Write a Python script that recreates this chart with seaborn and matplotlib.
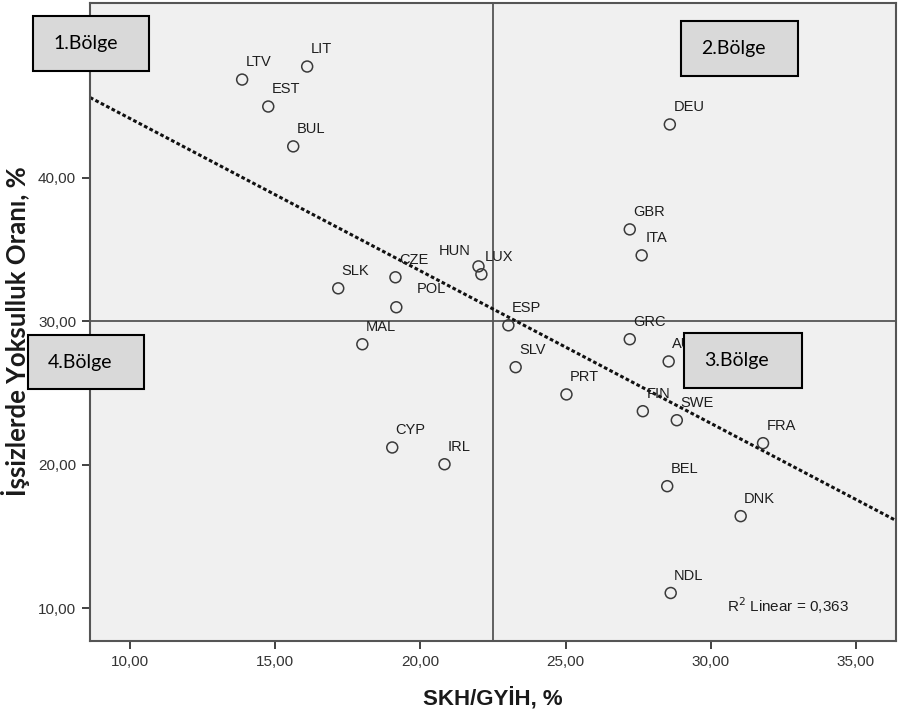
import numpy as np
import pandas as pd
import matplotlib
matplotlib.use("Agg")
import matplotlib.pyplot as plt
import seaborn as sns

# data
countries = ["LTV", "LIT", "EST", "BUL", "DEU", "SLK", "CZE", "POL", "HUN", "LUX",
             "ESP", "MAL", "SLV", "PRT", "GRC", "AUT", "FIN", "SWE", "FRA", "BEL",
             "DNK", "NDL", "CYP", "IRL", "GBR", "ITA"]
skh = [13.86, 16.10, 14.76, 15.62, 28.59, 17.17, 19.14, 19.17, 22.00, 22.10,
       23.03, 18.00, 23.28, 25.03, 27.21, 28.55, 27.66, 28.83, 31.80, 28.50,
       31.03, 28.62, 19.03, 20.83, 27.21, 27.62]
poverty = [46.86, 47.77, 44.98, 42.20, 43.73, 32.30, 33.07, 30.98, 33.83, 33.28,
           29.72, 28.40, 26.80, 24.90, 28.75, 27.20, 23.73, 23.10, 21.50, 18.50,
           16.41, 11.05, 21.20, 20.03, 36.41, 34.60]
x_ticks = [10, 15, 20, 25, 30, 35]
y_ticks = [10, 20, 30, 40]
x_ref, y_ref = 22.5, 30
regions = ["1.Bölge", "2.Bölge", "3.Bölge", "4.Bölge"]

df = pd.DataFrame({"country": countries, "skh": skh, "poverty": poverty})

sns.set_style("white")
plt.rcParams["font.family"] = ["Liberation Sans", "DejaVu Sans"]

fig = plt.figure(figsize=(8.98, 7.16), dpi=100)
ax = fig.add_axes([0.1002, 0.1047, 0.8976, 0.8911])
ax.set_facecolor("#f0f0f0")
ax.set_xlim(8.62, 36.38)
ax.set_ylim(7.7, 52.2)

# quadrant lines
ax.axvline(x_ref, color="#555555", lw=1.3, zorder=1)
ax.axhline(y_ref, color="#555555", lw=1.3, zorder=1)

# fit line over the whole axis
sns.regplot(data=df, x="skh", y="poverty", ax=ax, scatter=False, ci=None,
            truncate=False,
            line_kws={"color": "#111111", "lw": 2.2, "ls": (0, (1.2, 0.8)), "zorder": 2})

sns.scatterplot(data=df, x="skh", y="poverty", ax=ax, s=62, facecolor="none",
                edgecolor="#3a3a3a", linewidth=1.1, zorder=3)

# point labels, a few nudged like the original
offsets = {"HUN": (-6, 11, "right"), "POL": (15, 13, "left")}
for c, xv, yv in zip(countries, skh, poverty):
    dx, dy, ha = offsets.get(c, (2.5, 12.5, "left"))
    ax.annotate(c, (xv, yv), xytext=(dx, dy), textcoords="offset points",
                ha=ha, va="center", fontsize=10.5, color="#1e1e1e", zorder=4)

ax.text(0.79, 0.056, "R$^2$ Linear = 0,363", transform=ax.transAxes, fontsize=11,
        color="#1e1e1e", va="center", ha="left")

# region boxes (pixel positions in figure coords)
box_px = [(33, 16, 149, 71), (681, 21, 798, 76), (684, 333, 802, 388), (28, 335, 144, 389)]
W, H = 898, 716
for name, (x0, y0, x1, y1) in zip(regions, box_px):
    rect = plt.Rectangle((x0 / W, 1 - y1 / H), (x1 - x0) / W, (y1 - y0) / H,
                         transform=fig.transFigure, facecolor="#d9d9d9",
                         edgecolor="black", lw=1.5, zorder=10)
    fig.patches.append(rect)
    fig.text((x0 + 20) / W, 1 - (y0 + y1) / 2 / H, name, family="Lato",
             fontsize=14, ha="left", va="center", color="black", zorder=11)

ax.set_xticks(x_ticks)
ax.set_yticks(y_ticks)
ax.set_xticklabels([f"{t:.2f}".replace(".", ",") for t in x_ticks])
ax.set_yticklabels([f"{t:.2f}".replace(".", ",") for t in y_ticks])
ax.tick_params(axis="both", direction="out", length=6, width=1.3, color="#333333",
               labelsize=11, labelcolor="#333333", bottom=True, left=True, pad=4)
for sp in ax.spines.values():
    sp.set_color("#555555")
    sp.set_linewidth(1.5)

ax.set_xlabel("SKH/GYİH, %", fontsize=16, fontweight="bold", color="#1a1a1a")
ax.set_ylabel("İşsizlerde Yoksulluk Oranı, %", fontsize=18.5, fontweight="bold",
              family="Lato", color="#1a1a1a")
ax.xaxis.set_label_coords(0.5, -0.072)
ax.yaxis.set_label_coords(-0.075, 0.486)

fig.savefig("out.png", dpi=100)
